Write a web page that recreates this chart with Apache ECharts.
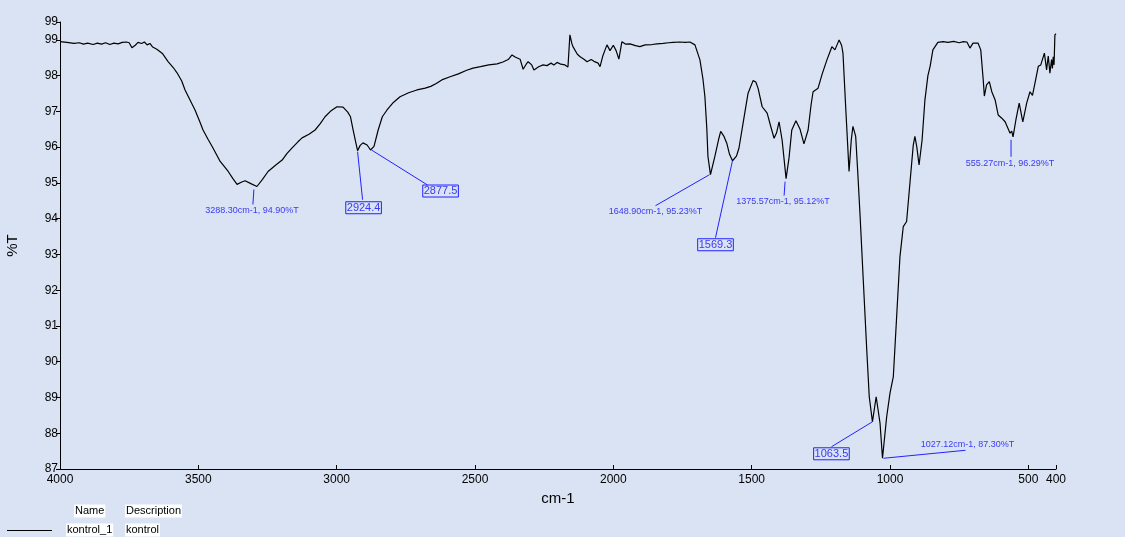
<!DOCTYPE html>
<html>
<head>
<meta charset="utf-8">
<script src="https://cdn.jsdelivr.net/npm/echarts@6/dist/echarts.min.js"></script>
<style>
html,body{margin:0;padding:0;background:#dae3f3;}
#c{width:1125px;height:537px;}
</style>
</head>
<body>
<div id="c"></div>
<script>
// Wavenumbers (cm-1) and transmittance (%T)
const wavenumbers = [4000,3975,3950,3930,3915,3900,3880,3865,3850,3835,3820,3805,3790,3775,3760,3750,3740,3728,3718,3705,3695,3685,3675,3665,3650,3630,3610,3590,3577,3560,3548,3530,3512,3495,3483,3465,3450,3435,3421,3405,3392,3375,3360,3345,3331,3310,3288.3,3268,3248,3220,3197,3180,3161,3140,3125,3100,3078,3060,3042,3020,2999,2977,2960,2950,2941,2930,2924.4,2915,2905,2890,2877.5,2865,2850,2835,2818,2795,2771,2740,2710,2680,2660,2655,2640,2620,2590,2560,2530,2507,2480,2450,2420,2399,2380,2366,2355,2337,2326,2315,2308,2295,2287,2270,2254,2240,2225,2215,2203,2190,2175,2164,2157,2150,2146,2140,2130,2120,2105,2095,2080,2070,2055,2048,2038,2030,2023,2012,2000,1990,1980,1969,1955,1940,1920,1904,1885,1860,1842,1820,1800,1784,1760,1740,1723,1705,1687,1676,1669,1662,1658,1648.9,1633,1620,1612,1600,1590,1580,1569.3,1555,1546,1531,1513,1495,1485,1477,1462,1444,1430,1419,1410,1401,1390,1375.57,1365,1355,1340,1325,1311,1296,1285,1278,1260,1245,1228,1210,1199,1184,1175,1170,1159,1148,1140,1134,1124,1117,1108,1096,1084,1075,1063.5,1050,1036,1027.12,1012,1000,988,976,964,952,940,928,916,910,903,895,884,874,863,855,845,827,808,790,770,750,735,722,711,700,682,672,663,659,651,641,632,620,609,596,584,575,566,560,555.27,545,533,520,506,494,485,476,464,455,442,434,428,422,416,413,410,407,404,400];
const transmittance = [98.95,98.93,98.90,98.92,98.88,98.91,98.87,98.91,98.88,98.92,98.87,98.91,98.89,98.93,98.94,98.92,98.78,98.85,98.93,98.90,98.94,98.86,98.90,98.80,98.74,98.62,98.40,98.22,98.08,97.85,97.60,97.32,97.04,96.72,96.48,96.22,96.02,95.80,95.60,95.45,95.32,95.12,94.96,95.02,95.06,94.98,94.90,95.10,95.32,95.50,95.64,95.82,95.98,96.15,96.26,96.36,96.48,96.65,96.85,97.02,97.13,97.12,96.98,96.85,96.50,96.10,95.90,96.05,96.12,96.06,95.92,96.02,96.48,96.85,97.04,97.25,97.41,97.52,97.60,97.65,97.70,97.68,97.78,97.88,97.97,98.05,98.15,98.21,98.25,98.30,98.33,98.38,98.45,98.58,98.52,98.46,98.18,98.32,98.39,98.30,98.16,98.25,98.30,98.28,98.35,98.30,98.37,98.32,98.30,98.24,99.14,98.90,98.81,98.85,98.60,98.53,98.45,98.39,98.45,98.40,98.35,98.25,98.55,98.72,98.86,98.70,98.85,98.70,98.46,98.95,98.88,98.89,98.84,98.81,98.86,98.87,98.89,98.90,98.92,98.93,98.94,98.93,98.94,98.86,98.44,97.90,97.41,96.50,95.74,95.23,95.74,96.20,96.44,96.30,96.11,95.80,95.62,95.75,95.97,96.67,97.51,97.86,97.82,97.65,97.13,96.95,96.55,96.25,96.40,96.71,96.20,95.12,95.70,96.48,96.74,96.50,96.09,96.48,97.20,97.55,97.65,98.05,98.44,98.81,98.72,99.00,98.85,98.63,96.95,95.32,96.20,96.58,96.30,95.36,94.06,92.19,90.33,89.02,88.32,89.02,88.28,87.30,88.46,89.12,89.58,91.26,92.94,93.78,93.92,94.99,96.05,96.30,96.00,95.50,96.20,97.30,98.00,98.26,98.72,98.93,98.95,98.93,98.96,98.92,98.95,98.94,98.77,98.91,98.91,98.72,97.88,97.43,97.74,97.83,97.55,97.32,96.90,96.81,96.71,96.55,96.39,96.45,96.29,96.76,97.23,96.71,97.23,97.55,97.45,97.79,98.26,98.30,98.63,98.16,98.55,98.07,98.45,98.20,98.53,98.30,99.14,99.17];

const xTicks = [4000,3500,3000,2500,2000,1500,1000,500,400];
const yTicks = [87,88,89,90,91,92,93,94,95,96,97,98,99,99.5];

// Peak annotations: [wavenumber, %T, label, boxed]
const peakWn    = [3288.30, 2924.4, 2877.5, 1648.90, 1569.3, 1375.57, 1063.5, 1027.12, 555.27];
const peakT     = [94.90, 95.90, 95.92, 95.23, 95.62, 95.12, 88.32, 87.30, 96.29];
const peakLabel = ['3288.30cm-1, 94.90%T','2924.4','2877.5','1648.90cm-1, 95.23%T','1569.3','1375.57cm-1, 95.12%T','1063.5','1027.12cm-1, 87.30%T','555.27cm-1, 96.29%T'];
const peakBoxed = [false,true,true,false,true,false,true,false,false];
// label placement offsets (px): line start, line end, label centre
const labelLayout = [
  {ls:[-3,3], le:[-4,18], lc:[-5,24]},
  {ls:[0,1], le:[5,49], lc:[6,57]},
  {ls:[1,0], le:[57,35], lc:[70,41]},
  {ls:[-1,0], le:[-55,31], lc:[-55,37]},
  {ls:[0,0], le:[-17,77], lc:[-17,84]},
  {ls:[-1,3], le:[-2,17], lc:[-3,23]},
  {ls:[0,0], le:[-41,25], lc:[-41,32]},
  {ls:[1,0], le:[83,-8], lc:[85,-14]},
  {ls:[-2,3], le:[-2,20], lc:[-3,27]}
];

const seriesData = wavenumbers.map((w,i)=>[w, transmittance[i]]);
const chart = echarts.init(document.getElementById('c'), null, {renderer:'canvas'});
const FONT = '"Liberation Sans", Arial, sans-serif';

chart.setOption({
  backgroundColor:'#dae3f3',
  animation:false,
  grid:{left:60,right:69,top:22,bottom:68,containLabel:false,outerBoundsMode:'none'},
  xAxis:{
    type:'value', min:400, max:4000, inverse:true,
    name:'cm-1', nameLocation:'middle', nameGap:22,
    nameTextStyle:{fontFamily:FONT,fontSize:15,color:'#000'},
    axisLine:{show:true,onZero:false,lineStyle:{color:'#000',width:1}},
    axisTick:{show:true,inside:true,length:4,lineStyle:{color:'#000'},customValues:xTicks},
    axisLabel:{fontFamily:FONT,fontSize:12,color:'#000',margin:5,customValues:xTicks,showMinLabel:true,showMaxLabel:true,
      formatter:v=>String(v)},
    splitLine:{show:false}
  },
  yAxis:{
    type:'value', min:87, max:99.5,
    name:'%T', nameLocation:'middle', nameGap:40, nameRotate:90,
    nameTextStyle:{fontFamily:FONT,fontSize:15,color:'#000'},
    axisLine:{show:true,onZero:false,lineStyle:{color:'#000',width:1}},
    axisTick:{show:true,inside:false,length:4,lineStyle:{color:'#000'},customValues:yTicks},
    axisLabel:{fontFamily:FONT,fontSize:12,color:'#000',margin:2,customValues:yTicks,
      formatter:v=>String(Math.floor(v))},
    splitLine:{show:false}
  },
  series:[{
    type:'line', data:seriesData, showSymbol:false, symbol:'none',
    lineStyle:{color:'#000',width:1.2}, silent:true
  }]
});

function drawAnnotations(){
  const els = [];
  const lineColor = '#2222ff';
  const textColor = '#3a3af2';
  peakWn.forEach((w,i)=>{
    const p = chart.convertToPixel({xAxisIndex:0,yAxisIndex:0},[w,peakT[i]]);
    const L = labelLayout[i];
    els.push({type:'line',silent:true,z:10,
      shape:{x1:p[0]+L.ls[0],y1:p[1]+L.ls[1],x2:p[0]+L.le[0],y2:p[1]+L.le[1]},
      style:{stroke:lineColor,lineWidth:1}});
    const st = {text:peakLabel[i],fill:textColor,align:'center',verticalAlign:'middle',
      font: peakBoxed[i] ? '11px '+FONT : '9px '+FONT};
    if(peakBoxed[i]){ st.borderColor=lineColor; st.borderWidth=1; st.padding=[1,1,0,1]; }
    els.push({type:'text',silent:true,z:11,x:p[0]+L.lc[0],y:p[1]+L.lc[1],style:st});
  });
  // legend table
  const lf = '11px '+FONT;
  const cell = (t,x,y)=>({type:'text',silent:true,x:x,y:y,
    style:{text:t,fill:'#000',font:lf,backgroundColor:'#fff',padding:[1,1,1,1],verticalAlign:'middle'}});
  els.push(cell('Name',74,511));
  els.push(cell('Description',125,511));
  els.push(cell('kontrol_1',66,530));
  els.push(cell('kontrol',125,530));
  els.push({type:'line',silent:true,shape:{x1:7,y1:530.5,x2:52,y2:530.5},style:{stroke:'#000',lineWidth:1}});
  chart.setOption({graphic:els});
}
drawAnnotations();
</script>
</body>
</html>
